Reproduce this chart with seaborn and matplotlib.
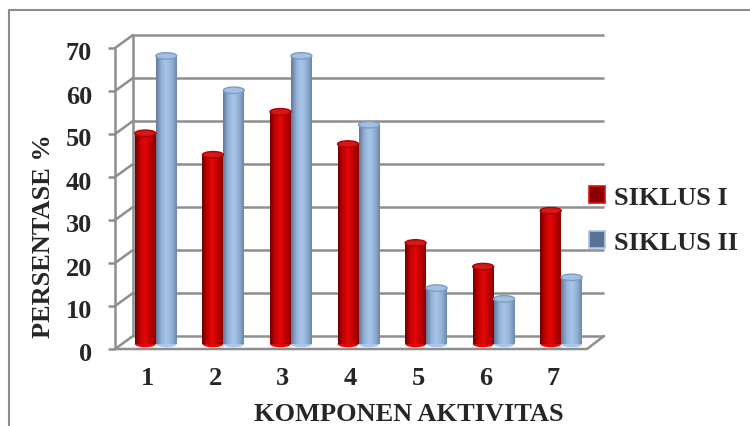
import numpy as np
import pandas as pd
import matplotlib
matplotlib.use("Agg")
import matplotlib.pyplot as plt
import seaborn as sns
from matplotlib.transforms import ScaledTranslation, blended_transform_factory
from matplotlib.colors import LinearSegmentedColormap, to_rgb
from matplotlib.patches import Ellipse, Patch
from matplotlib.lines import Line2D

# ---- data ----
categories = ["1", "2", "3", "4", "5", "6", "7"]
siklus_1 = [49, 44, 54, 46.5, 23.5, 18, 31]
siklus_2 = [67, 59, 67, 51, 13, 10.5, 15.5]
series_names = ["SIKLUS I", "SIKLUS II"]
y_ticks = [0, 10, 20, 30, 40, 50, 60, 70]
x_title = "KOMPONEN AKTIVITAS"
y_title = "PERSENTASE %"

df = pd.DataFrame({
    "komponen": categories * 2,
    "persen": siklus_1 + siklus_2,
    "siklus": [series_names[0]] * len(categories) + [series_names[1]] * len(categories),
})

RED = "#C00000"
BLUE = "#95B3D7"
GRID = "#8e8e8e"

sns.set_theme(style="white")
plt.rcParams["font.family"] = ["Liberation Serif", "DejaVu Serif"]
plt.rcParams["font.weight"] = "bold"

W, H = 750, 427
fig = plt.figure(figsize=(W / 100, H / 100), dpi=100)
fig.patch.set_facecolor("white")

ax_l, ax_r, ax_b, ax_t = 122, 595, 345, 44
ax = fig.add_axes([ax_l / W, 1 - ax_b / H, (ax_r - ax_l) / W, (ax_b - ax_t) / H])
ax.set_facecolor("none")

sns.barplot(data=df, x="komponen", y="persen", hue="siklus", order=categories,
            hue_order=series_names, palette=[RED, BLUE], width=0.62,
            saturation=1, ax=ax, legend=False, zorder=3)

ax.set_xlim(-0.5, 6.5)
ax.set_ylim(0, 70)
for s in ax.spines.values():
    s.set_visible(False)
ax.grid(False)
ax.set_xlabel("")
ax.set_ylabel("")
ax.set_yticks(y_ticks)
ax.tick_params(axis="both", length=0, labelsize=19)
ax.tick_params(axis="y", pad=21.5)
ax.tick_params(axis="x", pad=16)
for lab in ax.get_yticklabels():
    lab.set_fontweight("bold")
    lab.set_transform(lab.get_transform() + ScaledTranslation(0, -0.075, fig.dpi_scale_trans))
for lab in ax.get_xticklabels():
    lab.set_fontweight("bold")
    lab.set_transform(lab.get_transform() + ScaledTranslation(-0.08, 0, fig.dpi_scale_trans))

# ---- 3D-like walls / grid ----
axw = ax_r - ax_l
px_x = 1.0 / axw
px_y = 70.0 / (ax_b - ax_t)
bx, by = 11, 8      # back wall offset (px)
fx, fy = -7, -5     # front axis offset (px)
blend = blended_transform_factory(ax.transAxes, ax.transData)
back_tr = blend + ScaledTranslation(bx / 100, by / 100, fig.dpi_scale_trans)
front_tr = blend + ScaledTranslation(fx / 100, fy / 100, fig.dpi_scale_trans)

ax.hlines(y_ticks, 0, (604 - ax_l - bx) * px_x, transform=back_tr, colors=GRID,
          lw=1.8, zorder=1, clip_on=False)
ax.vlines(0, 0, 70, transform=back_tr, colors=GRID, lw=1.8, zorder=1, clip_on=False)
ax.vlines(0, 0, 70, transform=front_tr, colors=GRID, lw=1.8, zorder=1, clip_on=False)
ax.hlines(y_ticks, -7 * px_x, 0, transform=front_tr, colors=GRID, lw=1.8, zorder=1, clip_on=False)
for v in y_ticks:
    ax.plot([fx * px_x, bx * px_x], [v + fy * px_y, v + by * px_y],
            transform=blend, color=GRID, lw=1.8, zorder=1, clip_on=False)
# floor front edge and right side
ax.plot([fx * px_x, (587 - ax_l) * px_x, (604 - ax_l) * px_x],
        [fy * px_y, fy * px_y, by * px_y],
        transform=blend, color=GRID, lw=1.8, zorder=1, clip_on=False)

# ---- cylinder shading ----
red_cmap = LinearSegmentedColormap.from_list("r", ["#6e0000", "#c80000", "#e20808", "#c00000", "#8a0000"])
blue_cmap = LinearSegmentedColormap.from_list("b", ["#61789a", "#93b1d6", "#a9c6ea", "#94b2d6", "#6d88ad"])
grad = np.linspace(0, 1, 64).reshape(1, -1)
ell_h = 6.5 * px_y

bars = list(ax.patches)
for p in bars:
    x0, w, h = p.get_x(), p.get_width(), p.get_height()
    is_red = np.allclose(p.get_facecolor()[:3], to_rgb(RED), atol=0.05)
    cmap = red_cmap if is_red else blue_cmap
    top_c = "#d21818" if is_red else "#a3bfe2"
    edge_c = "#b00000" if is_red else "#7f9cc4"
    p.set_visible(False)
    cx = x0 + w / 2
    bot = Ellipse((cx, 0), w, ell_h, facecolor=cmap(0.5), edgecolor="none", zorder=3, clip_on=False)
    ax.add_patch(bot)
    ax.imshow(grad, cmap=cmap, extent=[x0, x0 + w, 0, h], aspect="auto",
              interpolation="bilinear", zorder=3.1, clip_on=False)
    top = Ellipse((cx, h), w, ell_h, facecolor=top_c, edgecolor=edge_c, lw=1.0, zorder=3.2, clip_on=False)
    ax.add_patch(top)

ax.set_xlim(-0.5, 6.5)
ax.set_ylim(0, 70)

# ---- titles ----
fig.text(409 / W, 1 - 415 / H, x_title, ha="center", va="center", fontsize=19, fontweight="bold")
fig.text(44 / W, 1 - 236 / H, y_title, ha="center", va="center", rotation=90, fontsize=19, fontweight="bold")

# ---- legend ----
handles = [Patch(facecolor="#8a0000", edgecolor="#e01010", lw=1.2),
           Patch(facecolor="#5a7394", edgecolor="#a9c6ea", lw=1.2)]
fig.legend(handles, series_names, loc="upper left", bbox_to_anchor=(589 / W, 1 - 187 / H),
           frameon=False, prop={"family": "Liberation Serif", "weight": "bold", "size": 19},
           handlelength=0.6, handleheight=0.6, handletextpad=0.35, labelspacing=0.82,
           borderpad=0, borderaxespad=0)

# ---- outer frame ----
fig.add_artist(Line2D([9 / W, 9 / W, 1.0], [0, 1 - 11 / H, 1 - 11 / H], transform=fig.transFigure,
                      color="#8c8c8c", lw=1.5))

fig.savefig("out.png", dpi=100)
